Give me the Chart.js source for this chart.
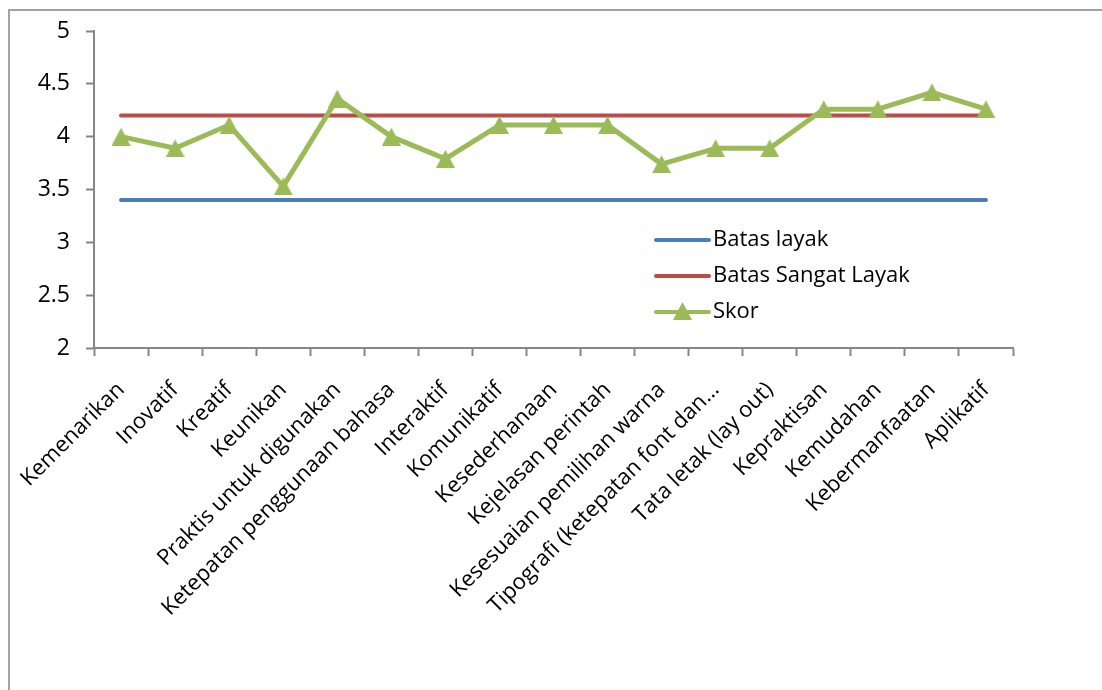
<!DOCTYPE html>
<html>
<head>
<meta charset="utf-8">
<script src="https://cdn.jsdelivr.net/npm/chart.js@4.4.0/dist/chart.umd.min.js"></script>
<style>
  body { margin: 0; background: #fff; }
  #frame {
    position: absolute; left: 8px; top: 9px; width: 1200px; height: 800px;
    border-left: 2px solid #a3a3a3; border-top: 2px solid #a3a3a3;
  }
  #wrap { position: absolute; left: 0; top: 0; width: 1102px; height: 690px; }
</style>
</head>
<body>
<div id="frame"></div>
<div id="wrap"><canvas id="grafik"></canvas></div>
<script>
// Data
const kategori = ["Kemenarikan", "Inovatif", "Kreatif", "Keunikan", "Praktis untuk digunakan",
  "Ketepatan penggunaan bahasa", "Interaktif", "Komunikatif", "Kesederhanaan", "Kejelasan perintah",
  "Kesesuaian pemilihan warna", "Tipografi (ketepatan font dan…", "Tata letak (lay out)", "Kepraktisan",
  "Kemudahan", "Kebermanfaatan", "Aplikatif"];
const batasLayak = [3.4, 3.4, 3.4, 3.4, 3.4, 3.4, 3.4, 3.4, 3.4, 3.4, 3.4, 3.4, 3.4, 3.4, 3.4, 3.4, 3.4];
const batasSangatLayak = [4.2, 4.2, 4.2, 4.2, 4.2, 4.2, 4.2, 4.2, 4.2, 4.2, 4.2, 4.2, 4.2, 4.2, 4.2, 4.2, 4.2];
const skor = [4.0, 3.89, 4.11, 3.53, 4.36, 4.0, 3.79, 4.11, 4.11, 4.11, 3.74, 3.89, 3.89, 4.26, 4.26, 4.42, 4.26];
const yTicks = [2, 2.5, 3, 3.5, 4, 4.5, 5];

const FONT = "'Open Sans', sans-serif";
const HIJAU = '#9bbb59';

// Penanda segitiga ala Excel (lebar 19, tinggi 18)
function buatSegitiga(w, h, warna) {
    const c = document.createElement('canvas');
    c.width = w; c.height = h;
    const g = c.getContext('2d');
    g.fillStyle = warna;
    g.beginPath();
    g.moveTo(w / 2, 0);
    g.lineTo(w, h);
    g.lineTo(0, h);
    g.closePath();
    g.fill();
    return c;
}
const segitiga = buatSegitiga(19, 18, HIJAU);

// Legenda di dalam area grafik
const legendaDalam = {
    id: 'legendaDalam',
    afterDraw(chart) {
        const ctx = chart.ctx;
        const x0 = 656, x1 = 709, y0 = 240, step = 36;
        chart.data.datasets.forEach((ds, i) => {
            const y = y0 + i * step;
            ctx.save();
            ctx.strokeStyle = ds.borderColor;
            ctx.lineWidth = 4;
            ctx.lineCap = 'round';
            ctx.beginPath();
            ctx.moveTo(x0, y);
            ctx.lineTo(x1, y);
            ctx.stroke();
            if (ds.pointRadius > 0) {
                const img = ds.pointStyle;
                ctx.drawImage(img, (x0 + x1) / 2 - img.width / 2, y - img.height / 2 - 1);
            }
            ctx.fillStyle = '#000';
            ctx.font = '22px ' + FONT;
            ctx.textBaseline = 'middle';
            ctx.fillText(ds.label, x1 + 4, y);
            ctx.restore();
        });
    }
};

new Chart(document.getElementById('grafik').getContext('2d'), {
    type: 'line',
    data: {
        labels: kategori,
        datasets: [{
            label: 'Batas layak',
            data: batasLayak,
            borderColor: '#4a7ebb',
            borderWidth: 4,
            borderCapStyle: 'round',
            pointRadius: 0,
            order: 2
        }, {
            label: 'Batas Sangat Layak',
            data: batasSangatLayak,
            borderColor: '#be4b48',
            borderWidth: 4,
            borderCapStyle: 'round',
            pointRadius: 0,
            order: 1
        }, {
            label: 'Skor',
            data: skor,
            borderColor: HIJAU,
            borderWidth: 5,
            borderJoinStyle: 'round',
            pointStyle: segitiga,
            pointRadius: 10,
            order: 0
        }]
    },
    options: {
        responsive: true,
        maintainAspectRatio: false,
        animation: false,
        layout: { padding: { left: 0, top: 31, right: 89, bottom: 0 } },
        plugins: {
            legend: { display: false },
            tooltip: { enabled: false }
        },
        scales: {
            x: {
                offset: true,
                grid: {
                    offset: true,
                    drawOnChartArea: false,
                    drawTicks: true,
                    tickLength: 8,
                    tickColor: '#868686',
                    tickWidth: 2
                },
                border: { display: true, color: '#868686', width: 2 },
                ticks: {
                    autoSkip: false,
                    maxRotation: 45,
                    minRotation: 45,
                    padding: 21,
                    labelOffset: 0,
                    color: '#000',
                    font: { family: FONT, size: 22 }
                },
                afterFit(scale) { scale.height = 342; }
            },
            y: {
                min: 2,
                max: 5,
                afterBuildTicks(scale) { scale.ticks = yTicks.map(v => ({ value: v })); },
                grid: {
                    drawOnChartArea: false,
                    drawTicks: true,
                    tickLength: 8,
                    tickColor: '#868686',
                    tickWidth: 2
                },
                border: { display: true, color: '#868686', width: 2 },
                ticks: {
                    padding: 16,
                    color: '#000',
                    font: { family: FONT, size: 23 },
                    callback: value => String(value)
                },
                afterFit(scale) { scale.width = 94; }
            }
        }
    },
    plugins: [legendaDalam]
});
</script>
</body>
</html>
